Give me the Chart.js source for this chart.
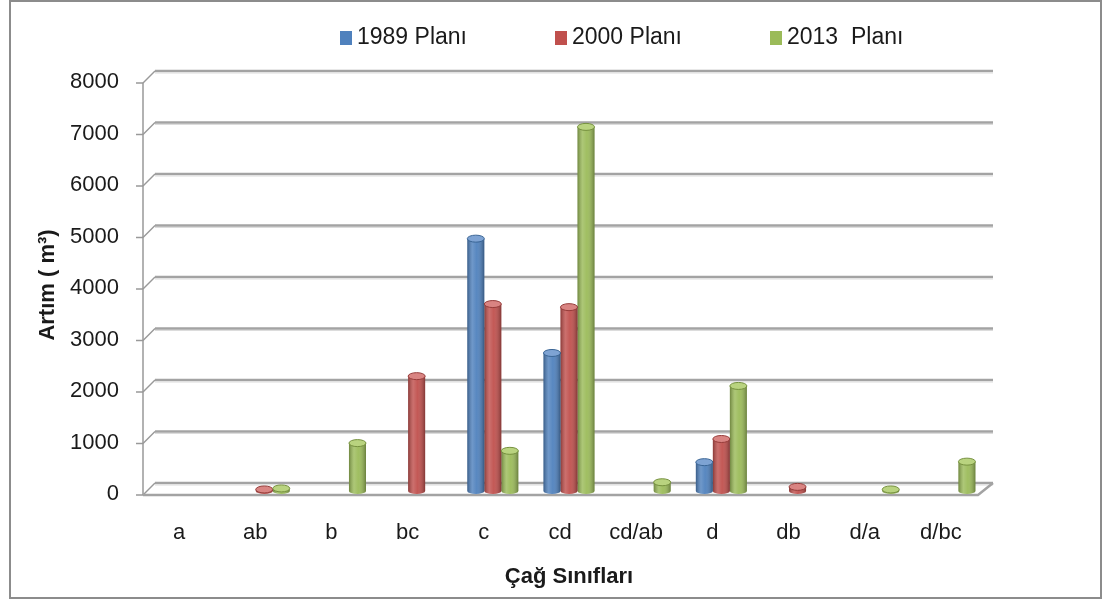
<!DOCTYPE html>
<html>
<head>
<meta charset="utf-8">
<script src="https://cdn.jsdelivr.net/npm/chart.js@4.4.0/dist/chart.umd.min.js"></script>
<style>
  html, body { margin: 0; padding: 0; background: #fff; }
  #wrap { position: relative; width: 1105px; height: 601px; }
</style>
</head>
<body>
<div id="wrap"><canvas id="chart" width="1105" height="601"></canvas></div>
<script>
// data (m³), null = no bar
const categories = ['a', 'ab', 'b', 'bc', 'c', 'cd', 'cd/ab', 'd', 'db', 'd/a', 'd/bc'];
const plan1989 = [null, null, null, null, 4900, 2680, null, 560, null, null, null];
const plan2000 = [null, 30, null, 2230, 3630, 3570, null, 1010, 80, null, null];
const plan2013 = [null, 50, 930, null, 780, 7070, 170, 2040, null, 30, 570];
const seriesNames = ['1989 Planı', '2000 Planı', '2013  Planı'];
const seriesColors = ['#4F81BD', '#C0504D', '#9BBB59'];
const capColors = ['#7ea3d3', '#d98482', '#b9d37f'];
const edgeColors = ['#3a6595', '#963c3a', '#76913f'];

const FONT = "'Liberation Sans Narrow', 'Liberation Sans', Arial, sans-serif";

function line(ctx, x1, y1, x2, y2) {
    ctx.beginPath();
    ctx.moveTo(x1, y1);
    ctx.lineTo(x2, y2);
    ctx.stroke();
}

// excel-like 3d walls, bar shading and the legend
const excel3d = {
    id: 'excel3d',
    beforeDraw(chart) {
        const ctx = chart.ctx;
        ctx.save();
        ctx.strokeStyle = '#8c8c8c';
        ctx.lineWidth = 2;
        ctx.strokeRect(10, 1, 1091, 597);
        ctx.restore();
    },
    beforeDatasetsDraw(chart) {
        const { ctx, chartArea: a, scales: { y } } = chart;
        const fx = a.left - 7, bx = a.left + 5, bxr = a.right + 5, fxr = a.right - 10;
        ctx.save();
        y.ticks.forEach(t => {
            const py = y.getPixelForValue(t.value);
            const yf = py + 4, yb = py - 8;
            ctx.strokeStyle = '#a3a3a3';
            ctx.lineWidth = 2.5;
            line(ctx, bx, yb, bxr, yb);
            ctx.strokeStyle = '#dcdcdc';
            ctx.lineWidth = 1;
            line(ctx, bx, yb + 2, bxr, yb + 2);
            ctx.strokeStyle = '#999';
            ctx.lineWidth = 1.5;
            line(ctx, fx, yf, bx, yb);
            line(ctx, fx - 7, yf, fx, yf);
        });
        const top = y.getPixelForValue(y.max) + 4;
        const bot = y.getPixelForValue(0) + 4;
        ctx.strokeStyle = '#999';
        ctx.lineWidth = 1.5;
        line(ctx, fx, top, fx, bot);
        ctx.strokeStyle = '#a3a3a3';
        ctx.lineWidth = 2.5;
        ctx.beginPath();
        ctx.moveTo(fx, bot);
        ctx.lineTo(fxr, bot);
        ctx.lineTo(bxr, bot - 12);
        ctx.stroke();
        ctx.restore();
    },
    afterDatasetsDraw(chart) {
        const ctx = chart.ctx;
        ctx.save();
        chart.data.datasets.forEach((ds, di) => {
            const meta = chart.getDatasetMeta(di);
            meta.data.forEach((bar, i) => {
                if (ds.data[i] == null || isNaN(bar.y)) return;
                const w = bar.width, x0 = bar.x - w / 2, x1 = bar.x + w / 2;
                const g = ctx.createLinearGradient(x0, 0, x1, 0);
                g.addColorStop(0, 'rgba(0,0,0,0.28)');
                g.addColorStop(0.3, 'rgba(255,255,255,0.18)');
                g.addColorStop(0.55, 'rgba(255,255,255,0.05)');
                g.addColorStop(1, 'rgba(0,0,0,0.32)');
                // round bottom
                ctx.fillStyle = seriesColors[di];
                ctx.beginPath();
                ctx.ellipse(bar.x, bar.base, w / 2, 3, 0, 0, Math.PI);
                ctx.fill();
                ctx.fillStyle = g;
                ctx.fillRect(x0, bar.y, w, bar.base - bar.y);
                ctx.beginPath();
                ctx.ellipse(bar.x, bar.base, w / 2, 3, 0, 0, Math.PI);
                ctx.fill();
                // top cap
                ctx.fillStyle = capColors[di];
                ctx.strokeStyle = edgeColors[di];
                ctx.lineWidth = 1;
                ctx.beginPath();
                ctx.ellipse(bar.x, bar.y, w / 2, 3.5, 0, 0, Math.PI * 2);
                ctx.fill();
                ctx.stroke();
            });
        });
        ctx.restore();
    },
    afterDraw(chart) {
        const ctx = chart.ctx;
        const boxX = [340, 555, 770];
        ctx.save();
        ctx.font = '23px ' + FONT;
        ctx.textBaseline = 'middle';
        ctx.fillStyle = '#1a1a1a';
        seriesNames.forEach((name, i) => {
            ctx.fillStyle = seriesColors[i];
            ctx.fillRect(boxX[i], 31, 12, 14);
            ctx.fillStyle = '#1a1a1a';
            ctx.fillText(name, boxX[i] + 17, 38);
        });
        ctx.restore();
    }
};

new Chart(document.getElementById('chart'), {
    type: 'bar',
    data: {
        labels: categories,
        datasets: [
            { label: seriesNames[0], data: plan1989, backgroundColor: seriesColors[0] },
            { label: seriesNames[1], data: plan2000, backgroundColor: seriesColors[1] },
            { label: seriesNames[2], data: plan2013, backgroundColor: seriesColors[2] }
        ]
    },
    options: {
        responsive: false,
        animation: false,
        devicePixelRatio: 1,
        layout: { padding: { top: 79, right: 117, bottom: 0, left: 0 } },
        datasets: { bar: { categoryPercentage: 0.67, barPercentage: 1.0, borderWidth: 0 } },
        plugins: {
            legend: { display: false },
            tooltip: { enabled: false }
        },
        scales: {
            x: {
                grid: { display: false, drawTicks: false },
                border: { display: false },
                ticks: { color: '#1a1a1a', font: { family: FONT, size: 22 }, padding: 29, labelOffset: -9, maxRotation: 0 },
                title: { display: true, text: 'Çağ Sınıfları', color: '#1a1a1a', font: { family: FONT, size: 22, weight: 'bold' }, padding: { top: 0, bottom: 11 } },
                afterFit: s => { s.height = 110; }
            },
            y: {
                min: 0,
                max: 8000,
                grid: { display: false, drawTicks: false },
                border: { display: false },
                ticks: { stepSize: 1000, color: '#1a1a1a', font: { family: FONT, size: 22 }, padding: 31, labelOffset: 3, callback: v => String(v) },
                title: { display: true, text: 'Artım ( m³)', color: '#1a1a1a', font: { family: FONT, size: 22, weight: 'bold' }, padding: { top: 35, bottom: 0 } },
                afterFit: s => { s.width = 150; }
            }
        }
    },
    plugins: [excel3d]
});
</script>
</body>
</html>
